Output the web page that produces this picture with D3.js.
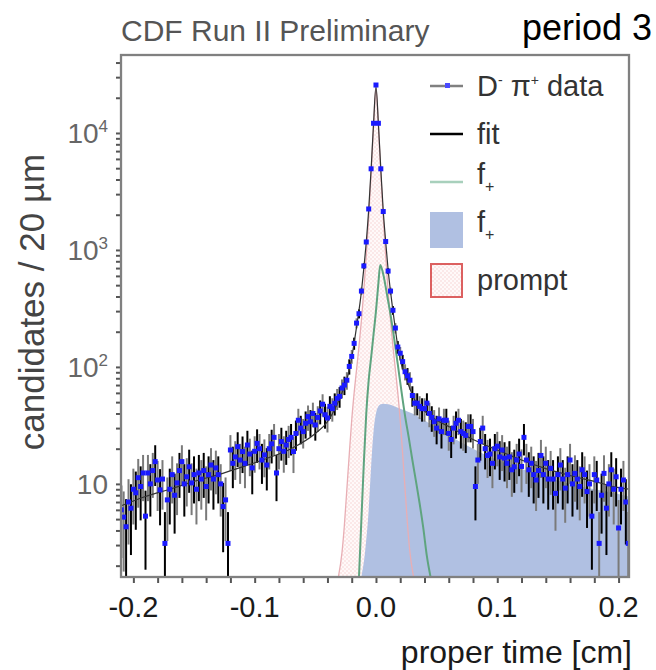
<!DOCTYPE html>
<html>
<head>
<meta charset="utf-8">
<script src="https://cdn.jsdelivr.net/npm/d3@7"></script>
<style>
body { margin: 0; background: #fff; }
svg text { font-family: "Liberation Sans", Arial, sans-serif; }
</style>
</head>
<body>
<script>
// histogram: 20 um bins, first bin centre at -0.21 cm
var binFirst = -0.21;
var binWidth = 0.002;
var counts = [
  6, 5.2, 4.3, 7, 6.2, 9, 8.4, 11.3, 9.5, 12.4,
  5.3, 12.4, 10, 13, 15.5, 10.8, 8.9, 11, 3.1, 7.3,
  9, 12, 8, 10.2, 13, 15.5, 10, 11.5, 14, 10.2,
  12, 9, 12.4, 11, 13, 9.5, 12, 14.5, 11, 13.7,
  12, 10, 6.4, 7.3, 3.1, 19.5, 15, 17, 20.8, 16,
  18.9, 15, 21.5, 18, 13.7, 19, 22.2, 20, 16, 17.7,
  14.5, 20, 22, 25, 12.4, 20, 23, 19, 21.5, 24,
  25, 18.9, 27, 35, 30, 28, 33, 37.6, 34, 40,
  31.9, 37, 42, 48, 39, 36.6, 46, 44, 48.9, 53.8,
  56, 66, 70, 77, 101, 123, 159, 237, 285, 445,
  730, 1170, 2240, 4940, 12100, 25700, 12100, 4940, 2130, 1180,
  660, 445, 305, 215, 148, 131, 111, 91, 84, 77,
  57, 49, 49, 46, 44, 44, 49, 40, 37, 34,
  30, 36, 28, 35, 35, 27, 24, 30, 33, 35,
  28, 27, 26, 31, 31, 28, 9.5, 16, 23, 30,
  20, 17.5, 18, 15, 20, 21, 17, 19.5, 16.6, 15,
  17, 13.2, 14, 16, 18, 14.1, 25, 16, 13.2, 15,
  12, 10.8, 13, 17.5, 12, 15, 11, 13.6, 11, 8.3,
  12, 14.5, 11, 9.2, 12, 16, 10, 12.3, 11, 9.5,
  13.2, 12, 8.6, 10, 5.3, 12, 10.8, 3.1, 8, 12.3,
  6.2, 10, 13.2, 9, 11.5, 4.2, 9, 10.8, 7, 3.1
];

// fit (total)
var fitTime = [-0.21, -0.19, -0.17, -0.15, -0.13, -0.11, -0.09, -0.07, -0.05, -0.04,
  -0.032, -0.028, -0.024, -0.02, -0.016, -0.012, -0.01, -0.008, -0.006, -0.004,
  -0.002, 0, 0.002, 0.004, 0.006, 0.008, 0.01, 0.012, 0.014, 0.016,
  0.018, 0.02, 0.024, 0.028, 0.032, 0.04, 0.05, 0.06, 0.08, 0.1,
  0.12, 0.14, 0.16, 0.18, 0.2, 0.21];
var fitValue = [6.5, 7.8, 9, 10.5, 12, 14, 16.5, 20, 27, 34,
  48, 60, 78, 120, 220, 440, 700, 1170, 2200, 4900,
  12000, 25000, 12000, 4900, 2150, 1180, 680, 440, 300, 210,
  150, 115, 85, 65, 52, 42, 35, 31, 24, 19.5,
  16, 13.5, 11.8, 10.5, 9.3, 9];

// f+ component
var fPlusTime = [-0.014, -0.012, -0.01, -0.008, -0.006, -0.004, -0.002, 0, 0.002, 0.0035,
  0.006, 0.009, 0.012, 0.015, 0.018, 0.021, 0.024, 0.027, 0.03, 0.033,
  0.036, 0.039, 0.042, 0.045];
var fPlusValue = [1.6, 5, 15, 40, 77, 120, 190, 300, 520, 745,
  620, 420, 280, 175, 105, 62, 38, 25, 16, 10.5,
  6.8, 4.2, 2.4, 1.5];

// f- component (filled)
var fMinusTime = [-0.012, -0.009, -0.006, -0.004, -0.002, 0, 0.002, 0.004, 0.006, 0.01,
  0.02, 0.03, 0.04, 0.05, 0.06, 0.08, 0.1, 0.12, 0.14, 0.16,
  0.18, 0.2, 0.21];
var fMinusValue = [1.6, 2.6, 6, 14, 28, 40, 46, 48, 48.5, 48,
  44, 40, 35, 30, 26, 20, 16, 13.5, 11.5, 10,
  9, 8.2, 7.8];

// prompt component (hatched)
var promptTime = [-0.031, -0.028, -0.026, -0.024, -0.022, -0.02, -0.018, -0.016, -0.014, -0.012,
  -0.01, -0.008, -0.006, -0.004, -0.002, 0, 0.002, 0.004, 0.006, 0.008,
  0.01, 0.012, 0.014, 0.016, 0.018, 0.02, 0.022, 0.024, 0.026, 0.028, 0.031];
var promptValue = [1.6, 2.6, 4.5, 9, 18, 35, 60, 95, 150, 250,
  450, 900, 1900, 4500, 11500, 24000, 11500, 4500, 1900, 900,
  450, 250, 150, 95, 60, 35, 18, 9, 4.5, 2.6, 1.6];

var xMajor = [-0.2, -0.1, 0.0, 0.1, 0.2];
var xMajorLabels = ["-0.2", "-0.1", "0.0", "0.1", "0.2"];
var yDecades = [10, 100, 1000, 10000];
var yExponents = ["", "2", "3", "4"];

function zip(ts, vs) {
  var out = [];
  for (var i = 0; i < ts.length; i++) out.push({t: ts[i], v: vs[i]});
  return out;
}

function draw_chart() {
  var plot = {left: 121, right: 629, top: 55, bottom: 577};

  var svg = d3.select("body").append("svg")
    .attr("width", 656)
    .attr("height", 670);

  var xScale = d3.scaleLinear()
    .domain([-0.2102, 0.2086])
    .range([plot.left, plot.right]);

  var yScale = d3.scaleLog()
    .domain([1.6, 46400])
    .range([plot.bottom, plot.top])
    .clamp(true);

  var defs = svg.append("defs");
  defs.append("clipPath").attr("id", "clip")
    .append("rect")
    .attr("x", plot.left).attr("y", plot.top)
    .attr("width", plot.right - plot.left).attr("height", plot.bottom - plot.top);

  // light pink checker for the prompt part
  var pat = defs.append("pattern").attr("id", "hatch")
    .attr("patternUnits", "userSpaceOnUse")
    .attr("width", 4).attr("height", 4);
  pat.append("rect").attr("width", 4).attr("height", 4).attr("fill", "#fff4f4").attr("fill-opacity", 0.5);
  pat.append("rect").attr("width", 2).attr("height", 2).attr("fill", "#f6d4d4").attr("fill-opacity", 0.45);
  pat.append("rect").attr("x", 2).attr("y", 2).attr("width", 2).attr("height", 2).attr("fill", "#f6d4d4").attr("fill-opacity", 0.45);

  var g = svg.append("g").attr("clip-path", "url(#clip)");

  var area = d3.area()
    .x(function(d) { return xScale(d.t); })
    .y0(plot.bottom)
    .y1(function(d) { return yScale(d.v); })
    .curve(d3.curveMonotoneX);

  var line = d3.line()
    .x(function(d) { return xScale(d.t); })
    .y(function(d) { return yScale(d.v); })
    .curve(d3.curveMonotoneX);

  // prompt hatched (under the f- fill)
  var prompt = zip(promptTime, promptValue);
  g.append("path")
    .datum(prompt)
    .attr("d", area)
    .attr("fill", "url(#hatch)");

  // f- filled
  var fMinus = zip(fMinusTime, fMinusValue);
  fMinus.push({t: 0.25, v: fMinusValue[fMinusValue.length - 1]});
  g.append("path")
    .datum(fMinus)
    .attr("d", area)
    .attr("fill", "#b0c0e2");

  g.append("path")
    .datum(prompt)
    .attr("d", line)
    .attr("fill", "none")
    .attr("stroke", "#e8aeb4")
    .attr("stroke-width", 1.3);

  // f+
  g.append("path")
    .datum(zip(fPlusTime, fPlusValue))
    .attr("d", line)
    .attr("fill", "none")
    .attr("stroke", "#5fa47f")
    .attr("stroke-width", 2);

  // data
  var data = counts.map(function(c, i) {
    return {t: binFirst + i * binWidth, v: c, err: 1.5 * Math.sqrt(c)};
  });

  g.append("g")
    .selectAll("line")
    .data(data)
    .enter()
    .append("line")
    .attr("x1", function(d) { return xScale(d.t); })
    .attr("x2", function(d) { return xScale(d.t); })
    .attr("y1", function(d) { return yScale(d.v + d.err); })
    .attr("y2", function(d) { return yScale(Math.max(d.v - d.err, 1)); })
    .attr("stroke", function(d, i) { return i % 2 == 0 ? "#000" : "#7a7a7a"; })
    .attr("stroke-width", 2);

  // fit
  g.append("path")
    .datum(zip(fitTime, fitValue))
    .attr("d", line)
    .attr("fill", "none")
    .attr("stroke", "#333")
    .attr("stroke-width", 1.2);

  g.append("g")
    .selectAll("rect")
    .data(data)
    .enter()
    .append("rect")
    .attr("x", function(d) { return xScale(d.t) - 2.5; })
    .attr("y", function(d) { return yScale(d.v) - 2.5; })
    .attr("width", 5)
    .attr("height", 5)
    .attr("fill", "#1a1aff");

  // axes
  var xTicks = d3.range(-10, 11).map(function(i) { return i * 0.02; });
  var xAxis = svg.append("g")
    .attr("transform", "translate(0," + plot.bottom + ")")
    .call(d3.axisBottom(xScale).tickValues(xTicks).tickSize(6).tickFormat(""));
  xAxis.select(".domain").remove();
  xAxis.selectAll(".tick line").attr("stroke", "#555").attr("stroke-width", 2);

  var yTicks = [];
  [1, 10, 100, 1000, 10000].forEach(function(dec) {
    for (var m = 1; m <= 9; m++) {
      var v = m * dec;
      if (v >= 1.6 && v <= 46400) yTicks.push(v);
    }
  });
  var yAxis = svg.append("g")
    .attr("transform", "translate(" + plot.left + ",0)")
    .call(d3.axisLeft(yScale).tickValues(yTicks).tickSize(5).tickFormat(""));
  yAxis.select(".domain").remove();
  yAxis.selectAll(".tick line").attr("stroke", "#555").attr("stroke-width", 2);

  svg.append("rect")
    .attr("x", plot.left).attr("y", plot.top)
    .attr("width", plot.right - plot.left)
    .attr("height", plot.bottom - plot.top)
    .attr("fill", "none")
    .attr("stroke", "#808080")
    .attr("stroke-width", 2.3);

  // tick labels
  svg.append("g")
    .selectAll("text")
    .data(xMajor)
    .enter()
    .append("text")
    .attr("x", function(d) { return xScale(d); })
    .attr("y", 617)
    .attr("text-anchor", "middle")
    .attr("font-size", 29)
    .attr("fill", "#1a1a1a")
    .text(function(d, i) { return xMajorLabels[i]; });

  var yl = svg.append("g")
    .selectAll("text")
    .data(yDecades)
    .enter()
    .append("text")
    .attr("x", 108)
    .attr("y", function(d) { return yScale(d) + 10; })
    .attr("text-anchor", "end")
    .attr("font-size", 28)
    .attr("fill", "#666");
  yl.append("tspan").text("10");
  yl.append("tspan")
    .attr("dy", -11)
    .attr("font-size", 17)
    .text(function(d, i) { return yExponents[i]; });

  // titles
  svg.append("text")
    .attr("x", 121).attr("y", 41)
    .attr("font-size", 30)
    .attr("fill", "#555")
    .text("CDF Run II Preliminary");

  svg.append("text")
    .attr("x", 522).attr("y", 40)
    .attr("font-size", 36)
    .attr("fill", "#000")
    .text("period 3");

  svg.append("text")
    .attr("x", 632).attr("y", 663)
    .attr("text-anchor", "end")
    .attr("font-size", 32)
    .attr("fill", "#1a1a1a")
    .text("proper time [cm]");

  svg.append("text")
    .attr("transform", "translate(44,302) rotate(-90)")
    .attr("text-anchor", "middle")
    .attr("font-size", 35)
    .attr("fill", "#444")
    .text("candidates / 20 \u00b5m");

  // legend
  var lg = svg.append("g");
  var ly = [86, 134, 182, 230, 280];
  var lx0 = 430, lx1 = 463, tx = 477;

  lg.append("line").attr("x1", lx0).attr("x2", lx1).attr("y1", ly[0]).attr("y2", ly[0])
    .attr("stroke", "#808080").attr("stroke-width", 2.5);
  lg.append("rect").attr("x", 445).attr("y", ly[0] - 3).attr("width", 5).attr("height", 5)
    .attr("fill", "#4a4aff");
  lg.append("line").attr("x1", lx0).attr("x2", lx1).attr("y1", ly[1]).attr("y2", ly[1])
    .attr("stroke", "#000").attr("stroke-width", 2.5);
  lg.append("line").attr("x1", lx0).attr("x2", lx1).attr("y1", ly[2]).attr("y2", ly[2])
    .attr("stroke", "#a8d0bc").attr("stroke-width", 2.5);
  lg.append("rect").attr("x", lx0).attr("y", ly[3] - 18).attr("width", lx1 - lx0).attr("height", 36)
    .attr("fill", "#b0c0e2");
  lg.append("rect").attr("x", lx0 + 1).attr("y", ly[4] - 16).attr("width", lx1 - lx0 - 2).attr("height", 33)
    .attr("fill", "url(#hatch)")
    .attr("stroke", "#dc6060").attr("stroke-width", 2);

  var t0 = lg.append("text").attr("x", tx).attr("y", ly[0] + 10).attr("font-size", 29).attr("fill", "#333");
  t0.append("tspan").text("D");
  t0.append("tspan").attr("dy", -11).attr("font-size", 14).text("-");
  t0.append("tspan").attr("dy", 11).text(" \u03c0");
  t0.append("tspan").attr("dy", -11).attr("font-size", 14).text("+");
  t0.append("tspan").attr("dy", 11).text(" data");

  lg.append("text").attr("x", tx).attr("y", ly[1] + 10).attr("font-size", 29).attr("fill", "#333").text("fit");

  [2, 3].forEach(function(k) {
    var t = lg.append("text").attr("x", tx).attr("y", ly[k] + 2).attr("font-size", 29).attr("fill", "#333");
    t.append("tspan").text("f");
    t.append("tspan").attr("dy", 8).attr("font-size", 16).text("+");
  });

  lg.append("text").attr("x", tx).attr("y", ly[4] + 10).attr("font-size", 29).attr("fill", "#333").text("prompt");
}

draw_chart();
</script>
</body>
</html>
